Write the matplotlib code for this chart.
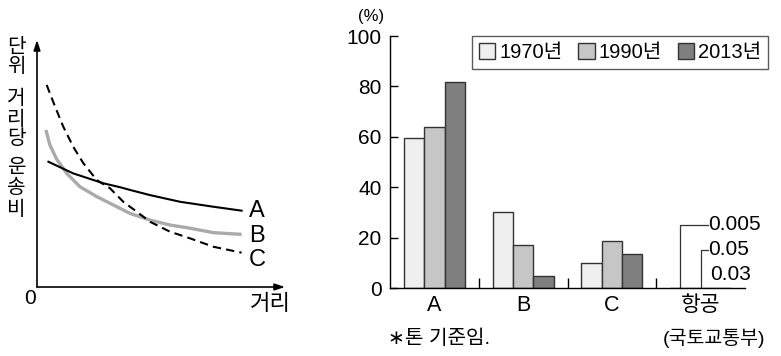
import matplotlib.pyplot as plt
from matplotlib.patches import Patch
from matplotlib.ticker import FixedLocator

plt.rcParams['font.family'] = ['Liberation Sans', 'Noto Sans CJK KR', 'DejaVu Sans']

# left panel: cost per unit distance (0-100 scale)
a_x = [4.6, 14.6, 26.7, 33.5, 37.5, 45.6, 57.7, 71.1, 82.5]
a_y = [50.7, 46.0, 42.0, 40.4, 39.3, 37.2, 34.5, 32.5, 30.9]
b_x = [3.6, 5.2, 7.9, 12.0, 17.3, 24.1, 29.4, 37.5, 45.6, 53.6, 61.7, 71.1, 82.5]
b_y = [63.6, 57.5, 51.8, 46.0, 40.6, 36.6, 33.9, 29.8, 27.1, 25.1, 23.8, 22.0, 21.3]
c_x = [3.9, 7.3, 10.6, 14.6, 18.7, 24.1, 29.4, 34.8, 40.2, 45.6, 53.6, 61.7, 71.1, 82.5]
c_y = [81.8, 73.0, 64.9, 56.8, 50.1, 43.3, 40.0, 34.5, 30.5, 26.4, 22.4, 19.7, 16.3, 13.9]

# right panel: freight share (%)
modes = ['A', 'B', 'C', '항공']
years = ['1970년', '1990년', '2013년']
share_1970 = [59.5, 30.3, 10.0, 0.005]
share_1990 = [63.7, 17.1, 18.8, 0.05]
share_2013 = [81.7, 4.6, 13.4, 0.03]
colors = ['#efefef', '#c6c6c6', '#7f7f7f']

W, H = 781, 356
fig = plt.figure(figsize=(W / 100, H / 100), dpi=100)


def px(x, y):
    return x / W, 1 - y / H


# ---- left
ax1 = fig.add_axes([37 / W, 1 - 287 / H, 248 / W, 247 / H])
ax1.set_xlim(0, 100)
ax1.set_ylim(0, 100)
ax1.axis('off')
for tip in [(0, 100), (100, 0)]:
    ax1.annotate('', xy=tip, xytext=(0, 0),
                 arrowprops=dict(arrowstyle='-|>,head_length=0.6,head_width=0.2', color='black',
                                 lw=1.2, shrinkA=0, shrinkB=0))
ax1.plot(b_x, b_y, color='#aaaaaa', lw=2.4, solid_joinstyle='round', solid_capstyle='butt')
ax1.plot(c_x, c_y, color='black', lw=1.5, dashes=(4, 2.5), dash_joinstyle='round')
ax1.plot(a_x, a_y, color='black', lw=1.5, solid_joinstyle='round')
for lab, yy in zip(['A', 'B', 'C'], [a_y[-1], b_y[-1] - 0.5, c_y[-1] - 2.8]):
    ax1.text(85.5, yy, lab, fontsize=17, va='center', ha='left')

fig.text(*px(30, 298), '0', fontsize=15, ha='center', va='center')
fig.text(*px(270, 305), '거리', fontsize=16, ha='center', va='center')
ylab_chars = ['단', '위', '거', '리', '당', '운', '송', '비']
ylab_pos = [44.5, 63.5, 96.5, 116.5, 136, 165, 185, 207]
for ch, yy in zip(ylab_chars, ylab_pos):
    fig.text(*px(16, yy), ch, fontsize=14.5, ha='center', va='center_baseline',
             family='Noto Sans CJK KR')

# ---- right
ax2 = fig.add_axes([390 / W, 1 - 288 / H, 355 / W, 252 / H])
w = 0.23
xs = range(len(modes))
for i, (vals, lab, col) in enumerate(zip([share_1970, share_1990, share_2013], years, colors)):
    ax2.bar([x + (i - 1) * w for x in xs], vals, width=w, color=col,
            edgecolor='#333333', linewidth=1.0, label=lab)

ax2.set_xlim(-0.5, 3.5)
ax2.set_ylim(0, 100)
for s in ['top', 'right']:
    ax2.spines[s].set_visible(False)
ax2.spines['left'].set_linewidth(1.0)
ax2.spines['bottom'].set_linewidth(1.0)
ax2.set_yticks([0, 20, 40, 60, 80, 100])
ax2.tick_params(axis='y', direction='in', length=6, width=1.0, labelsize=15, pad=6)
ax2.set_xticks(list(xs))
ax2.set_xticklabels(modes)
ax2.tick_params(axis='x', length=0, labelsize=15.5, pad=5)
ax2.xaxis.set_minor_locator(FixedLocator([0.5, 1.5, 2.5]))
ax2.tick_params(axis='x', which='minor', direction='in', length=7, width=1.0)

# air freight labels
ax2.plot([3 - w, 3 - w, 3.08], [0, 25, 25], color='#333333', lw=0.9)
ax2.plot([3, 3, 3.08], [0, 15.2, 15.2], color='#333333', lw=0.9)
ax2.text(3.085, 25, '0.005', fontsize=15, va='center', ha='left', clip_on=False)
ax2.text(3.085, 15.2, '0.05', fontsize=15, va='center', ha='left', clip_on=False)
ax2.text(3.11, 5.2, '0.03', fontsize=15, va='center', ha='left', clip_on=False)

fig.text(*px(371, 16), '(%)', fontsize=12, ha='center', va='center')

handles = [Patch(facecolor=c, edgecolor='#333333', linewidth=1.0) for c in colors]
leg = fig.legend(handles, years, loc='upper left', bbox_to_anchor=px(472, 36),
                 ncol=3, fontsize=14.5, frameon=True, fancybox=False,
                 handlelength=0.8, handleheight=0.8, handletextpad=0.2,
                 columnspacing=0.8, borderpad=0.35, borderaxespad=0)
leg.get_frame().set_edgecolor('#333333')
leg.get_frame().set_linewidth(1.0)

fig.text(*px(388, 338), '∗톤 기준임.', fontsize=14.5, ha='left', va='center')
fig.text(*px(765, 338), '(국토교통부)', fontsize=14, ha='right', va='center')

fig.savefig('out.png', dpi=100)
